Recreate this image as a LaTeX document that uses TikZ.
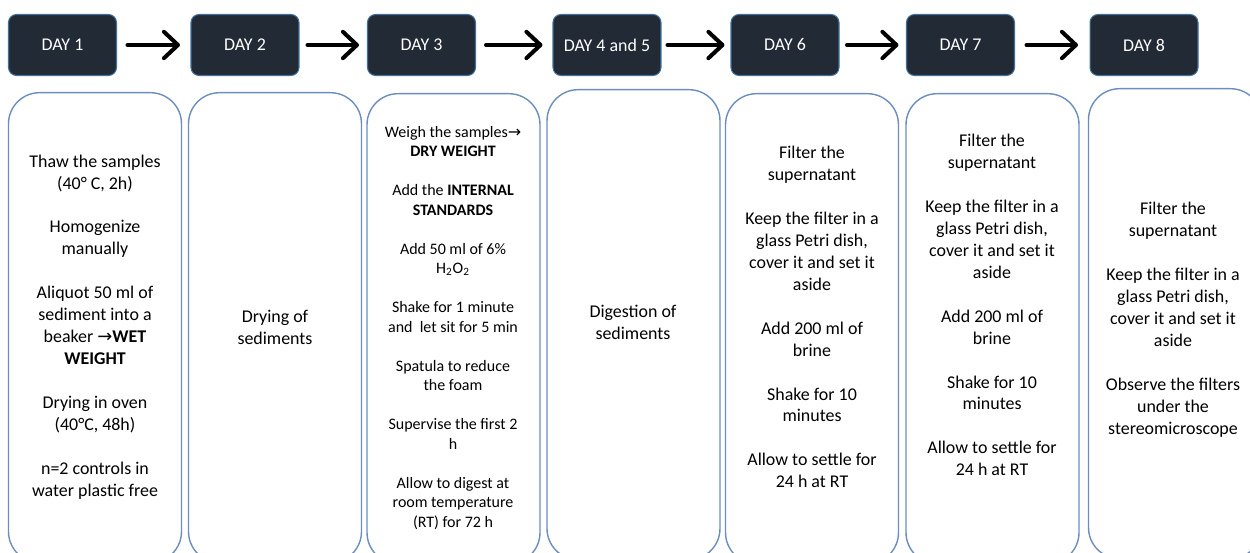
\documentclass[tikz,border=0pt]{standalone}
\usepackage{fontspec}
\setmainfont{Carlito}
\newfontfamily\arrowfont{DejaVu Sans}
\usetikzlibrary{arrows.meta}
\definecolor{headfill}{HTML}{222A35}
\definecolor{headedge}{HTML}{41719C}
\definecolor{cardedge}{HTML}{6C8EBF}
\newcommand{\stepgap}{\\[\baselineskip]}
\newcommand{\textarrow}{{\arrowfont →}}

\begin{document}
\begin{tikzpicture}[x=0.02cm, y=-0.02cm,
        dayhead/.style={draw=headedge, fill=headfill, text=white, rounded corners=0.16cm, minimum width=2.16cm, minimum height=1.22cm, line width=0.6pt, font=\fontsize{10.2}{12.5}\selectfont},
        stepcard/.style={draw=cardedge, fill=white, rounded corners=0.62cm, minimum width=3.46cm, minimum height=9.4cm, line width=0.8pt, anchor=north},
        steptext/.style={align=center, font=\fontsize{10.2}{12.5}\selectfont},
        nextarrow/.style={-{Straight Barb[length=8pt,width=15pt,round]}, line width=2.3pt, line cap=round}]
        \useasboundingbox (0,0) rectangle (1250,553);

        \node[dayhead] (day1) at (62.5, 45) {DAY 1};
        \node[dayhead] (day2) at (245, 45) {DAY 2};
        \node[dayhead] (day3) at (421.5, 45) {DAY 3};
        \node[dayhead] (day45) at (607, 45) {DAY 4 and 5};
        \node[dayhead] (day6) at (785, 45) {DAY 6};
        \node[dayhead] (day7) at (960.5, 45) {DAY 7};
        \node[dayhead] (day8) at (1144, 45) {DAY 8};

        \foreach \a/\b/\s in {day1/day2/0.21, day2/day3/0.16, day3/day45/0.2, day45/day6/0.12, day6/day7/0.15, day7/day8/0.23}
            \draw[nextarrow, shorten <=\s cm, shorten >=\s cm] (\a) -- (\b);

        \node[stepcard] (card1) at (95, 92) {};
        \node[stepcard] (card2) at (275, 92) {};
        \node[stepcard] (card3) at (453.5, 93) {};
        \node[stepcard] (card45) at (633.5, 89) {};
        \node[stepcard] (card6) at (812, 93) {};
        \node[stepcard] (card7) at (992.5, 93) {};
        \node[stepcard] (card8) at (1175, 88) {};

        \node[steptext] (todo1) at (95, 327) {Thaw the samples\\(40° C, 2h)\stepgap Homogenize\\manually\stepgap Aliquot 50 ml of\\sediment into a\\beaker \textarrow\textbf{WET}\\\textbf{WEIGHT}\stepgap Drying in oven\\(40°C, 48h)\stepgap n=2 controls in\\water plastic free};
        \node[steptext] (todo2) at (275, 327) {Drying of\\sediments};
        \node[steptext, font=\fontsize{9.1}{11.1}\selectfont] (todo3) at (453, 328) {Weigh the samples\textarrow\\\textbf{DRY WEIGHT}\stepgap Add the \textbf{INTERNAL}\\\textbf{STANDARDS}\stepgap Add 50 ml of 6\%\\H\textsubscript{2}O\textsubscript{2}\stepgap Shake for 1 minute\\and\ \ let sit for 5 min\stepgap Spatula to reduce\\the foam\stepgap Supervise the first 2\\h\stepgap Allow to digest at\\room temperature\\(RT) for 72 h};
        \node[steptext] (todo45) at (633, 322) {Digestion of\\sediments};
        \node[steptext] (todo6) at (812, 317) {Filter the\\supernatant\stepgap Keep the filter in a\\glass Petri dish,\\cover it and set it\\aside\stepgap Add 200 ml of\\brine\stepgap Shake for 10\\minutes\stepgap Allow to settle for\\24 h at RT};
        \node[steptext] (todo7) at (992, 305) {Filter the\\supernatant\stepgap Keep the filter in a\\glass Petri dish,\\cover it and set it\\aside\stepgap Add 200 ml of\\brine\stepgap Shake for 10\\minutes\stepgap Allow to settle for\\24 h at RT};
        \node[steptext] (todo8) at (1173, 320) {Filter the\\supernatant\stepgap Keep the filter in a\\glass Petri dish,\\cover it and set it\\aside\stepgap Observe the filters\\under the\\stereomicroscope};
    \end{tikzpicture}
\end{document}
